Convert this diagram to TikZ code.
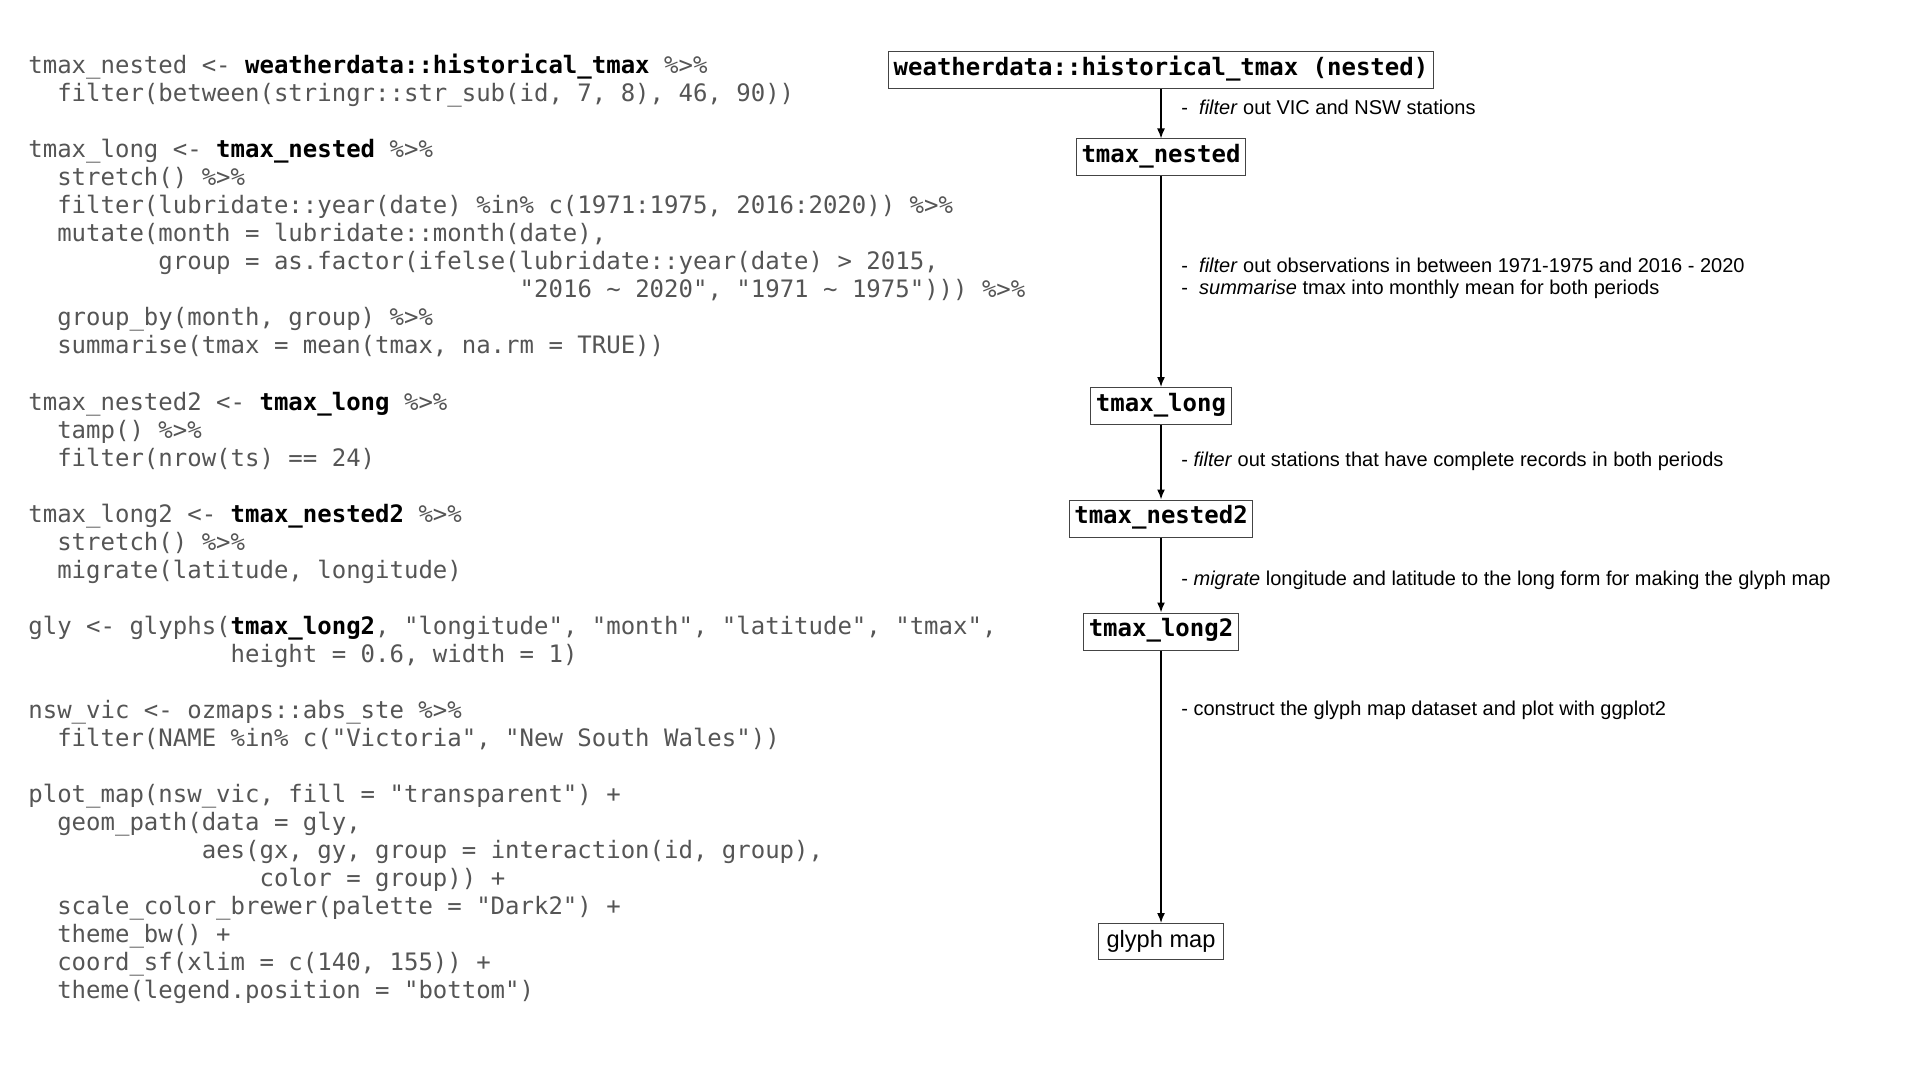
\documentclass[tikz,border=0pt]{standalone}
\usepackage{fontspec}
\setmainfont{Liberation Sans}
\setsansfont{Liberation Sans}
\setmonofont{DejaVu Sans Mono}
\usetikzlibrary{arrows.meta}
\definecolor{codegray}{HTML}{555555}
\definecolor{boxline}{HTML}{444444}
\newcommand{\bk}[1]{\textcolor{black}{\textbf{#1}}}
\begin{document}
\begin{tikzpicture}[x=0.5pt,y=-0.5pt,
  codeline/.style={anchor=base west, inner sep=0pt, font=\fontsize{12pt}{14pt}\ttfamily, text=codegray},
  databox/.style={draw=boxline, line width=0.5pt, font=\fontsize{12pt}{14pt}\ttfamily\bfseries, inner xsep=2.5pt, inner ysep=0pt, minimum height=18.5pt, text height=8.2pt, text depth=3.2pt},
  endbox/.style={draw=boxline, line width=0.5pt, font=\fontsize{11.8pt}{14pt}\sffamily, inner xsep=4.2pt, inner ysep=0pt, minimum height=18pt, text height=8.3pt, text depth=2.8pt},
  stepnote/.style={anchor=base west, inner sep=0pt, font=\fontsize{10pt}{12pt}\sffamily},
  flow/.style={-{Latex[length=5pt,width=4pt]}, line width=0.75pt}]

\useasboundingbox (0,0) rectangle (1920,1080);
\fill[white] (0,0) rectangle (1920,1080);

% ---------- code listing ----------
\node[codeline] (c0)  at (28,74)     {tmax\_nested <- \bk{weatherdata::historical\_tmax} \%>\%};
\node[codeline] (c1)  at (56.9,102)  {filter(between(stringr::str\_sub(id, 7, 8), 46, 90))};
\node[codeline] (c3)  at (28,158)    {tmax\_long <- \bk{tmax\_nested} \%>\%};
\node[codeline] (c4)  at (56.9,186)  {stretch() \%>\%};
\node[codeline] (c5)  at (56.9,214)  {filter(lubridate::year(date) \%in\% c(1971:1975, 2016:2020)) \%>\%};
\node[codeline] (c6)  at (56.9,242)  {mutate(month = lubridate::month(date),};
\node[codeline] (c7)  at (158.05,270) {group = as.factor(ifelse(lubridate::year(date) > 2015,};
\node[codeline] (c8)  at (519.3,298) {"2016 \textasciitilde{} 2020", "1971 \textasciitilde{} 1975"))) \%>\%};
\node[codeline] (c9)  at (56.9,326)  {group\_by(month, group) \%>\%};
\node[codeline] (c10) at (56.9,354)  {summarise(tmax = mean(tmax, na.rm = TRUE))};
\node[codeline] (c12) at (28,410)    {tmax\_nested2 <- \bk{tmax\_long} \%>\%};
\node[codeline] (c13) at (56.9,438)  {tamp() \%>\%};
\node[codeline] (c14) at (56.9,466)  {filter(nrow(ts) == 24)};
\node[codeline] (c16) at (28,522)    {tmax\_long2 <- \bk{tmax\_nested2} \%>\%};
\node[codeline] (c17) at (56.9,550)  {stretch() \%>\%};
\node[codeline] (c18) at (56.9,578)  {migrate(latitude, longitude)};
\node[codeline] (c20) at (28,634)    {gly <- glyphs(\bk{tmax\_long2}, "longitude", "month", "latitude", "tmax",};
\node[codeline] (c21) at (230.3,662) {height = 0.6, width = 1)};
\node[codeline] (c23) at (28,718)    {nsw\_vic <- ozmaps::abs\_ste \%>\%};
\node[codeline] (c24) at (56.9,746)  {filter(NAME \%in\% c("Victoria", "New South Wales"))};
\node[codeline] (c26) at (28,802)    {plot\_map(nsw\_vic, fill = "transparent") +};
\node[codeline] (c27) at (56.9,830)  {geom\_path(data = gly,};
\node[codeline] (c28) at (201.4,858) {aes(gx, gy, group = interaction(id, group),};
\node[codeline] (c29) at (259.2,886) {color = group)) +};
\node[codeline] (c30) at (56.9,914)  {scale\_color\_brewer(palette = "Dark2") +};
\node[codeline] (c31) at (56.9,942)  {theme\_bw() +};
\node[codeline] (c32) at (56.9,970)  {coord\_sf(xlim = c(140, 155)) +};
\node[codeline] (c33) at (56.9,998)  {theme(legend.position = "bottom")};

% ---------- flow chart ----------
\node[databox] (src)   at (1161,70.5)  {weatherdata::historical\_tmax (nested)};
\node[databox] (nest)  at (1161,157.5) {tmax\_nested};
\node[databox] (long)  at (1161,406)   {tmax\_long};
\node[databox] (nest2) at (1161,518.5) {tmax\_nested2};
\node[databox] (long2) at (1161,631.5) {tmax\_long2};
\node[endbox]  (gmap)  at (1161,941.5) {glyph map};

\draw[flow] (src) -- (nest);
\draw[flow] (nest) -- (long);
\draw[flow] (long) -- (nest2);
\draw[flow] (nest2) -- (long2);
\draw[flow] (long2) -- (gmap);

\node[stepnote] (n1)  at (1181,114.5) {-\ \ \textit{filter} out VIC and NSW stations};
\node[stepnote] (n2a) at (1181,272.5) {-\ \ \textit{filter} out observations in between 1971-1975 and 2016 - 2020};
\node[stepnote] (n2b) at (1181,294.5) {-\ \ \textit{summarise} tmax into monthly mean for both periods};
\node[stepnote] (n3)  at (1181,466) {- \textit{filter} out stations that have complete records in both periods};
\node[stepnote] (n4)  at (1181,585) {- \textit{migrate} longitude and latitude to the long form for making the glyph map};
\node[stepnote] (n5)  at (1181,715) {- construct the glyph map dataset and plot with ggplot2};
\end{tikzpicture}
\end{document}
